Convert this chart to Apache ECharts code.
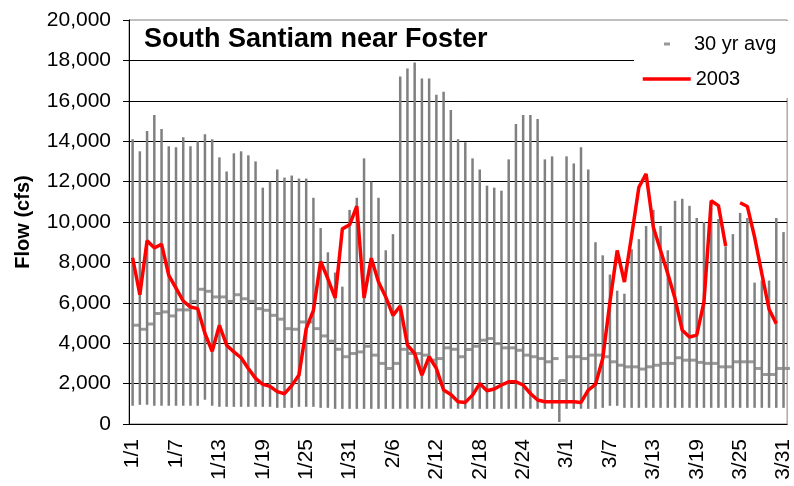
<!DOCTYPE html>
<html>
<head>
<meta charset="utf-8">
<script src="https://cdn.jsdelivr.net/npm/echarts@6/dist/echarts.min.js"></script>
<style>
  html, body { margin: 0; padding: 0; background: #fff; }
  #chart { width: 794px; height: 486px; }
</style>
</head>
<body>
<div id="chart"></div>
<script>
// day labels Jan 1 .. Mar 31 (30 yr record includes Feb 29)
const monthLengths = [31, 29, 31];
const days = [];
monthLengths.forEach((n, m) => {
  for (let d = 1; d <= n; d++) days.push((m + 1) + '/' + d);
});

// 30 year record: daily max, min and average flow (cfs)
const maxFlow = [
  14100, 13500, 14500, 15300, 14600, 13750, 13700, 14200, 13750, 14000,
  14350, 14100, 13200, 12500, 13400, 13500, 13300, 13000, 11700, 12000,
  12600, 12200, 12300, 12150, 12150, 11200, 9700, 8500, 7500, 6800,
  10600, 11200, 13150, 12000, 11200, 8600, 9400, 17200, 17600, 17900,
  17100, 17100, 16300, 16450, 15550, 14100, 13950, 13150, 12600, 11800,
  11700, 11550, 13100, 14850, 15300, 15300, 15100, 13100, 13250, 2150,
  13250, 12900, 13700, 12600, 9000, 8350, 7400, 6600, 6450, 8650,
  9150, 9800, 10600, 9800, 8600, 11050, 11150, 10800, 10200, 10000,
  10700, 10150, 8800, 9400, 10450, 10200, 7000, 7100, 7100, 10200,
  9500
];
const minFlow = [
  900, 950, 950, 900, 900, 900, 900, 900, 900, 900,
  1200, 900, 850, 850, 850, 850, 850, 850, 850, 850,
  800, 800, 800, 850, 850, 850, 800, 800, 750, 750,
  750, 750, 750, 750, 750, 750, 750, 750, 750, 750,
  750, 750, 750, 750, 750, 750, 750, 750, 750, 750,
  750, 750, 750, 750, 750, 750, 750, 750, 750, 100,
  750, 750, 750, 750, 750, 800, 900, 900, 800, 800,
  800, 800, 800, 800, 800, 800, 800, 800, 800, 800,
  800, 800, 800, 800, 800, 800, 800, 800, 800, 800,
  800
];
const avgFlow = [
  4890, 4690, 4950, 5470, 5550, 5350, 5650, 5650, 6070, 6670,
  6570, 6290, 6290, 6070, 6400, 6200, 6070, 5710, 5630, 5380,
  5190, 4720, 4690, 5050, 5050, 4720, 4360, 4100, 3700, 3330,
  3490, 3570, 3850, 3410, 3000, 2750, 3000, 3700, 3490, 3490,
  3410, 3160, 3240, 3770, 3700, 3330, 3690, 3850, 4150, 4230,
  3980, 3770, 3770, 3650, 3410, 3330, 3240, 3080, 3240, 2150,
  3330, 3330, 3240, 3410, 3410, 3330, 3080, 2910, 2830, 2830,
  2720, 2830, 2910, 3000, 3000, 3280, 3160, 3160, 3050, 3000,
  3000, 2830, 2830, 3080, 3080, 3080, 2750, 2450, 2450, 2750,
  2750
];
// 2003 daily flow (cfs), gaps are missing days
const flow2003 = [
  8230, 6400, 9070, 8720, 8900, 7360, 6730, 6090, 5790, 5710,
  4480, 3600, 4890, 3900, 3570, 3280, 2750, 2260, 1960, 1860,
  1600, 1500, 1900, 2420, 4720, 5630, 8050, 7190, 6240, 9660,
  9860, 10780, 6240, 8210, 7030, 6290, 5380, 5840, 3900, 3490,
  2420, 3330, 2750, 1680, 1460, 1100, 1070, 1430, 2000, 1650,
  1730, 1930, 2090, 2090, 1930, 1510, 1190, 1100, 1100, 1100,
  1100, 1100, 1070, 1680, 1960, 3240, 6040, 8590, 7030, 9330,
  11720, 12380, 9740, 8590, 7440, 6210, 4640, 4310, 4400, 6040,
  11050, 10810, 8810, null, 10950, 10770, 9250, 7440, 5680, 4970,
  null
];

const font = 'Liberation Sans, Arial, sans-serif';
const chart = echarts.init(document.getElementById('chart'));

const option = {
  animation: false,
  backgroundColor: '#fff',
  textStyle: { fontFamily: font },
  title: {
    text: 'South Santiam near Foster',
    left: 144,
    top: 26,
    padding: 0,
    textStyle: { fontFamily: font, fontSize: 27, fontWeight: 'bold', color: '#000' }
  },
  legend: [
    {
      data: [{ name: '30 yr avg', icon: 'rect' }],
      left: 664,
      top: 34,
      padding: 0,
      itemWidth: 6,
      itemHeight: 3,
      textStyle: { fontFamily: font, fontSize: 20, color: '#000', padding: [0, 0, 0, 19] }
    },
    {
      data: ['2003'],
      left: 641,
      top: 69,
      padding: 0,
      itemWidth: 48,
      itemHeight: 14,
      itemStyle: { opacity: 0 },
      lineStyle: { color: '#ff0000', width: 3.5 },
      textStyle: { fontFamily: font, fontSize: 20, color: '#000' }
    }
  ],
  graphic: [
    {
      type: 'rect',
      z: 3,
      shape: { x: 634, y: 21, width: 155.5, height: 77 },
      style: { fill: '#fff' }
    }
  ],
  grid: {
    left: 129,
    right: 4,
    top: 20,
    bottom: 62,
    show: true,
    borderColor: '#808080',
    borderWidth: 1
  },
  xAxis: {
    type: 'category',
    data: days,
    boundaryGap: true,
    axisLine: { lineStyle: { color: '#000', width: 1 } },
    axisTick: { interval: 0, length: 5, lineStyle: { color: '#000' } },
    axisLabel: {
      interval: 5,
      rotate: 90,
      margin: 15,
      padding: [0, 0, 10, 0],
      fontFamily: font,
      fontSize: 21,
      color: '#000'
    },
    splitLine: { show: false }
  },
  yAxis: {
    type: 'value',
    min: 0,
    max: 20000,
    interval: 2000,
    name: 'Flow (cfs)',
    nameLocation: 'middle',
    nameRotate: 90,
    nameGap: 96,
    nameTextStyle: { fontFamily: font, fontSize: 20, fontWeight: 'bold', color: '#000' },
    axisLine: { show: true, lineStyle: { color: '#000', width: 1 } },
    axisTick: { show: true, length: 6, lineStyle: { color: '#000' } },
    axisLabel: {
      margin: 18,
      fontFamily: font,
      fontSize: 21,
      color: '#000',
      formatter: v => v.toLocaleString('en-US')
    },
    splitLine: { show: true, showMaxLine: false, lineStyle: { color: '#000', width: 1 } }
  },
  series: [
    {
      name: 'range',
      type: 'custom',
      data: days.map((d, i) => [i, minFlow[i], maxFlow[i]]),
      encode: { x: 0, y: [1, 2] },
      renderItem: function (params, api) {
        const lo = api.coord([api.value(0), api.value(1)]);
        const hi = api.coord([api.value(0), api.value(2)]);
        return {
          type: 'line',
          shape: { x1: lo[0], y1: lo[1], x2: hi[0], y2: hi[1] },
          style: { stroke: '#808080', lineWidth: 2.5 }
        };
      },
      z: 1
    },
    {
      name: '30 yr avg',
      type: 'scatter',
      data: avgFlow,
      symbol: 'rect',
      symbolSize: [7, 3],
      symbolOffset: [3, 0],
      itemStyle: { color: '#808080' },
      z: 2
    },
    {
      name: '2003',
      type: 'line',
      data: flow2003,
      symbol: 'none',
      connectNulls: false,
      lineStyle: { color: '#ff0000', width: 3.5 },
      itemStyle: { color: '#ff0000' },
      z: 3
    }
  ]
};

chart.setOption(option);
</script>
</body>
</html>
